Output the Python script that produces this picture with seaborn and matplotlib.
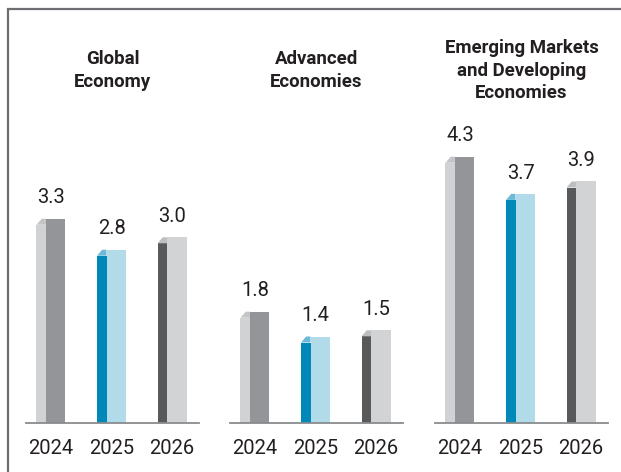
import matplotlib
matplotlib.use("Agg")
import matplotlib.pyplot as plt
from matplotlib.patches import Rectangle, Polygon
import seaborn as sns
import pandas as pd

years = ["2024", "2025", "2026"]
panel_titles = ["Global\nEconomy", "Advanced\nEconomies",
                "Emerging Markets\nand Developing\nEconomies"]
global_vals = [3.3, 2.8, 3.0]
advanced_vals = [1.8, 1.4, 1.5]
emerging_vals = [4.3, 3.7, 3.9]

front_colors = ["#939598", "#b2dbe9", "#d1d3d4"]
side_colors = ["#d1d2d4", "#0088b9", "#58595b"]
cap_colors = ["#c4c5c7", "#6cbad8", "#bdbec0"]

sns.set_style("white")
plt.rcParams["font.family"] = ["Roboto", "DejaVu Sans"]

fig = plt.figure(figsize=(6.21, 4.72), dpi=100)

# outer frame (right/bottom edges fall outside the image)
fig.patches.append(Rectangle((7.5 / 621, -0.2), 1.2, 1.2 - 9 / 472,
                             transform=fig.transFigure, fill=False,
                             edgecolor="#6d6e71", linewidth=1.6))

panel_lefts = [26 / 621, 230 / 621, 435 / 621]
ax_w = 173 / 621
ax_bottom = (472 - 423.3) / 472
ax_h = 310 / 472

side_w = 0.157   # width of shaded side face (data units)
front_w = 0.322  # width of front face
drop = 0.097     # side face is slightly lower than the front

for left, title, vals in zip(panel_lefts, panel_titles,
                             [global_vals, advanced_vals, emerging_vals]):
    ax = fig.add_axes([left, ax_bottom, ax_w, ax_h])
    df = pd.DataFrame({"year": years, "value": vals})
    sns.barplot(data=df, x="year", y="value", hue="year", palette=front_colors,
                width=front_w, saturation=1, legend=False, ax=ax)

    bars = sorted(ax.patches, key=lambda p: p.get_x())
    half = (side_w + front_w) / 2
    for i, (bar, v) in enumerate(zip(bars, vals)):
        center = bar.get_x() + bar.get_width() / 2
        front_left = center - half + side_w
        bar.set_x(front_left)
        bar.set_linewidth(0)
        side_left = center - half
        ax.add_patch(Rectangle((side_left, 0), side_w, v - drop,
                               facecolor=side_colors[i], linewidth=0))
        ax.add_patch(Polygon([(side_left, v - drop),
                              (side_left + side_w * 0.55, v),
                              (front_left, v),
                              (front_left, v - drop)],
                             closed=True, facecolor=cap_colors[i], linewidth=0))
        ax.annotate(f"{v:.1f}", (center, v), xytext=(0, 15),
                    textcoords="offset points", ha="center", va="center",
                    fontsize=14.5, color="#231f20")

    ax.set_xlim(-0.413, 2.446)
    ax.set_ylim(0, 5)
    ax.set_xlabel("")
    ax.set_ylabel("")
    ax.set_yticks([])
    ax.tick_params(axis="x", length=0, pad=11, labelsize=14.5,
                   labelcolor="#231f20")
    for s in ["top", "left", "right"]:
        ax.spines[s].set_visible(False)
    ax.spines["bottom"].set_color("#8a8b8d")
    ax.spines["bottom"].set_linewidth(1.3)
    ax.patch.set_alpha(0)

    fig.text(left + ax_w / 2, 1 - 70.5 / 472, title, ha="center", va="center",
             fontsize=13.4, fontweight="bold", color="#231f20", linespacing=1.32)

fig.savefig("out.png", dpi=100)
